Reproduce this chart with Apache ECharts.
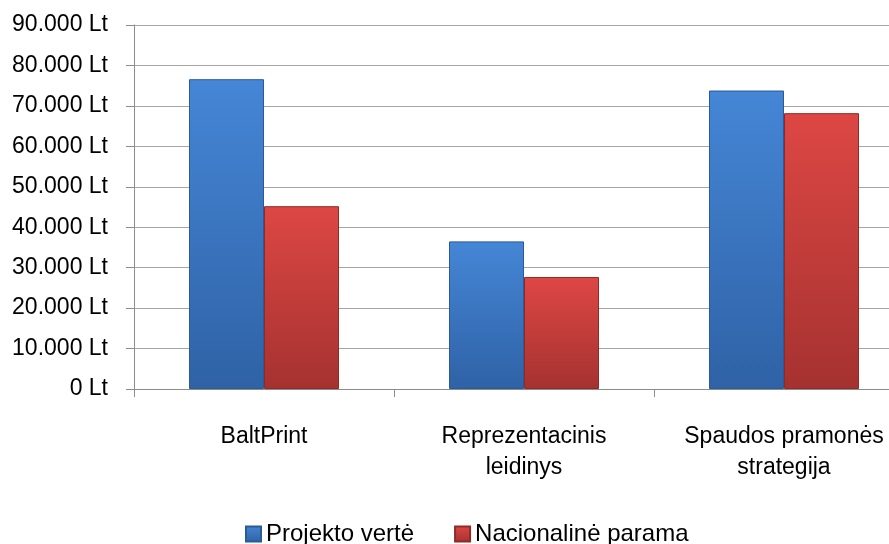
<!DOCTYPE html>
<html><head><meta charset="utf-8">
<script src="https://cdn.jsdelivr.net/npm/echarts@6/dist/echarts.min.js"></script>
<style>html,body{margin:0;padding:0;background:#fff;overflow:hidden}#c{width:914px;height:544px}</style>
</head><body><div id="c"></div>
<script>
const categories = ['BaltPrint', 'Reprezentacinis\nleidinys', 'Spaudos pramonės\nstrategija'];
const projektoVerte = [76600, 36500, 73800];
const nacionalineParama = [45200, 27700, 68200];
const seriesNames = ['Projekto vertė', 'Nacionalinė parama'];
const FONT = '"Liberation Sans", Arial, sans-serif';

function grad(top, bottom) {
  return new echarts.graphic.LinearGradient(0, 0, 0, 1, [
    {offset: 0, color: top}, {offset: 1, color: bottom}
  ]);
}
const chart = echarts.init(document.getElementById('c'));
chart.setOption({
  animation: false,
  backgroundColor: '#fff',
  grid: {left: 134, top: 25, width: 780, height: 364, containLabel: false},
  legend: {
    left: 240, top: 517, itemWidth: 15, itemHeight: 15, itemGap: 40,
    icon: 'rect',
    textStyle: {fontFamily: FONT, fontSize: 24, color: '#000'},
    data: seriesNames
  },
  xAxis: {
    type: 'category', data: categories,
    axisLine: {lineStyle: {color: '#8c8c8c', width: 1}},
    axisTick: {show: true, length: 8, lineStyle: {color: '#8c8c8c'}},
    axisLabel: {fontFamily: FONT, fontSize: 23, color: '#000', margin: 32, lineHeight: 31, interval: 0}
  },
  yAxis: {
    type: 'value', min: 0, max: 90000, interval: 10000,
    axisLine: {show: true, lineStyle: {color: '#8c8c8c', width: 1}},
    axisTick: {show: true, length: 8, lineStyle: {color: '#8c8c8c'}},
    splitLine: {lineStyle: {color: '#a6a6a6', width: 1}},
    axisLabel: {
      fontFamily: FONT, fontSize: 23, color: '#000', margin: 26,
      formatter: v => (v === 0 ? '0' : (v / 1000) + '.000') + ' Lt'
    }
  },
  series: [
    {name: seriesNames[0], type: 'bar', data: projektoVerte, barWidth: 75, barGap: '0%',
     itemStyle: {color: grad('#4586d6', '#2f62a6'), borderColor: '#2a5a98', borderWidth: 1}},
    {name: seriesNames[1], type: 'bar', data: nacionalineParama, barWidth: 75,
     itemStyle: {color: grad('#dd4744', '#a53230'), borderColor: '#8e2a28', borderWidth: 1}}
  ]
});
</script></body></html>
